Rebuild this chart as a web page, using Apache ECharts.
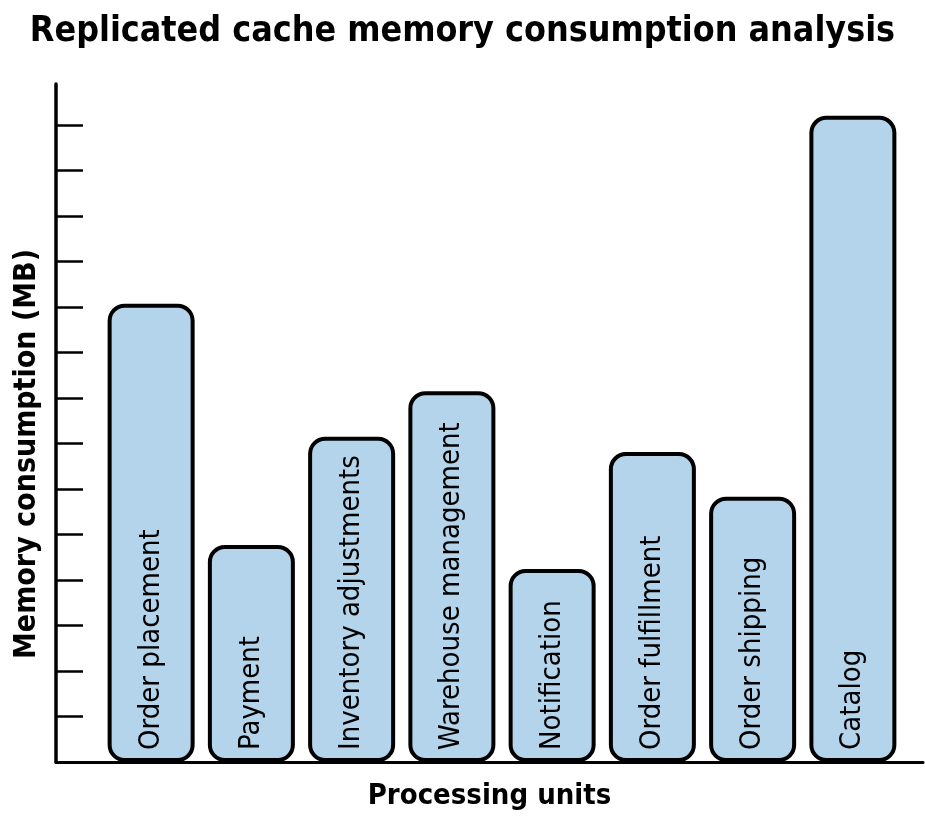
<!DOCTYPE html>
<html>
<head>
<meta charset="utf-8">
<script src="https://cdn.jsdelivr.net/npm/echarts@6/dist/echarts.min.js"></script>
<style>
  html, body { margin: 0; padding: 0; background: #fff; }
  #chart { width: 925px; height: 820px; }
</style>
</head>
<body>
<div id="chart"></div>
<script>
// processing units and their cache memory (MB)
const units = ['Order placement', 'Payment', 'Inventory adjustments', 'Warehouse management',
    'Notification', 'Order fulfillment', 'Order shipping', 'Catalog'];
const memory = [10.07, 4.77, 7.15, 8.15, 4.24, 6.81, 5.83, 14.2];
const tickValues = [1, 2, 3, 4, 5, 6, 7, 8, 9, 10, 11, 12, 13, 14];

const font = '"DejaVu Sans Condensed", "Liberation Sans Narrow", sans-serif';

const chart = echarts.init(document.getElementById('chart'));
chart.setOption({
    animation: false,
    title: {
        text: 'Replicated cache memory consumption analysis',
        left: 'center',
        top: 9,
        textStyle: { fontFamily: font, fontSize: 35.5, fontWeight: 'bold', color: '#000' }
    },
    grid: [
        { left: 101, right: 22, top: 84, bottom: 58 },
        { left: 56, right: 2, top: 84, bottom: 58 }
    ],
    xAxis: [
        {
            type: 'category',
            data: units,
            gridIndex: 0,
            axisLine: { show: false },
            axisTick: { show: false },
            axisLabel: { show: false }
        },
        {
            type: 'value',
            gridIndex: 1,
            min: 0,
            max: 1,
            name: 'Processing units',
            nameLocation: 'middle',
            nameGap: 20,
            nameTextStyle: { fontFamily: font, fontSize: 29, fontWeight: 'bold', color: '#000', verticalAlign: 'top' },
            axisLine: { lineStyle: { color: '#000', width: 3 } },
            axisTick: { show: false },
            axisLabel: { show: false },
            splitLine: { show: false }
        }
    ],
    yAxis: [
        {
            type: 'value',
            gridIndex: 0,
            min: 0,
            max: 14.9,
            offset: 45,
            name: 'Memory consumption (MB)',
            nameLocation: 'middle',
            nameRotate: 90,
            nameGap: 14,
            nameTextStyle: { fontFamily: font, fontSize: 30, fontWeight: 'bold', color: '#000', padding: [0, 62, 0, 0] },
            axisLine: { show: true, lineStyle: { color: '#000', width: 3.5 } },
            axisTick: {
                show: true,
                inside: true,
                length: 27,
                customValues: tickValues,
                lineStyle: { color: '#000', width: 2.5 }
            },
            axisLabel: { show: false },
            splitLine: { show: false }
        },
        {
            type: 'value',
            gridIndex: 1,
            min: 0,
            max: 1,
            show: false
        }
    ],
    series: [
        {
            type: 'bar',
            xAxisIndex: 0,
            yAxisIndex: 0,
            data: memory,
            barWidth: 87,
            itemStyle: {
                color: '#b3d4ea',
                borderColor: '#000',
                borderWidth: 4,
                borderRadius: 15
            },
            label: {
                show: true,
                position: 'insideBottom',
                rotate: 90,
                align: 'left',
                verticalAlign: 'middle',
                distance: 12,
                formatter: '{b}',
                fontFamily: font,
                fontSize: 29,
                color: '#000'
            }
        }
    ]
});
</script>
</body>
</html>
